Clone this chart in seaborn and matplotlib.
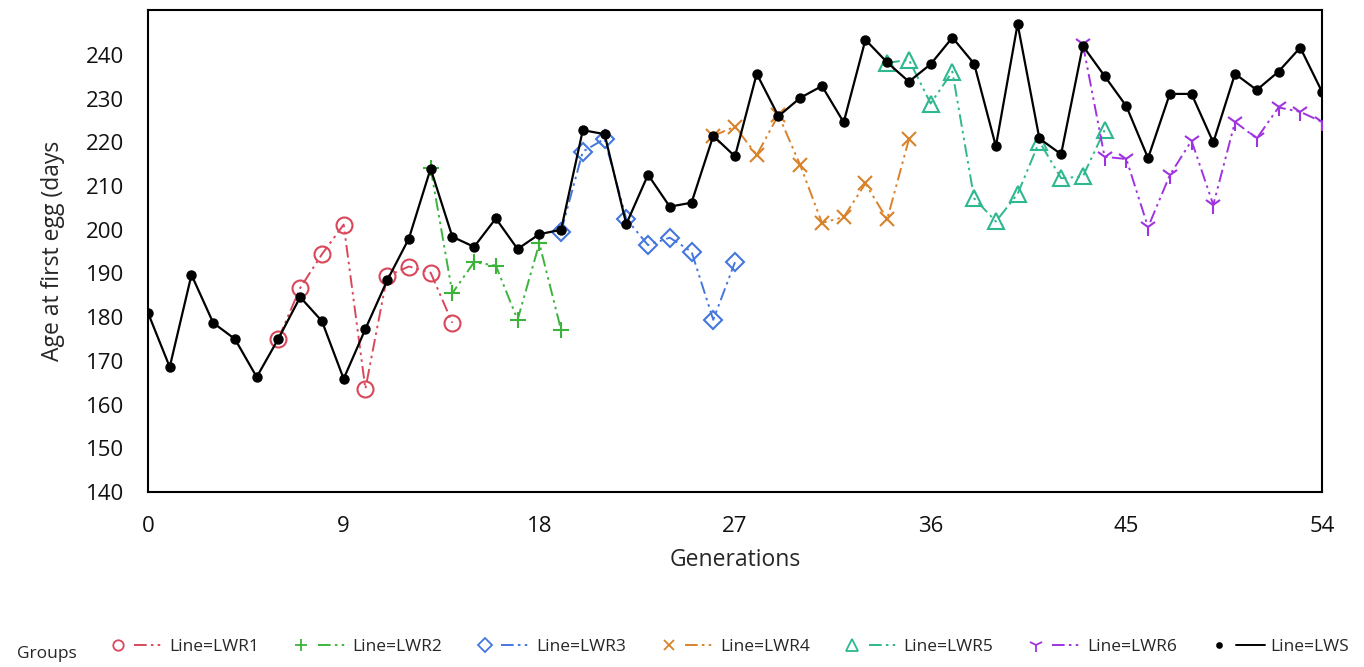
import numpy as np
import pandas as pd
import matplotlib
matplotlib.use("Agg")
import matplotlib.pyplot as plt
import seaborn as sns
from matplotlib.lines import Line2D
from matplotlib.legend_handler import HandlerTuple

# ---- data ----
lws_gen = list(range(0, 55))
lws = [181.0, 168.6, 189.7, 178.7, 175.0, 166.3, 175.1, 184.6, 179.1, 165.9,
       177.3, 188.4, 198.0, 214.0, 198.4, 196.1, 202.6, 195.6, 199.0, 200.0,
       222.8, 221.9, 201.3, 212.6, 205.3, 206.2, 221.5, 216.8, 235.7, 226.0,
       230.2, 232.9, 224.6, 243.5, 238.3, 233.9, 237.9, 244.0, 238.0, 219.1,
       247.1, 220.9, 217.3, 242.1, 235.2, 228.3, 216.4, 231.1, 231.1, 220.0,
       235.7, 232.0, 236.2, 241.7, 231.6]
lwr1_gen = list(range(6, 15))
lwr1 = [175.1, 186.7, 194.4, 201.2, 163.6, 189.4, 191.6, 190.2, 178.7]
lwr2_gen = list(range(13, 20))
lwr2 = [214.1, 185.5, 192.6, 191.8, 179.4, 196.9, 177.1]
lwr3_gen = list(range(19, 28))
lwr3 = [199.6, 217.9, 220.8, 202.5, 196.5, 198.2, 195.0, 179.4, 192.6]
lwr4_gen = list(range(26, 36))
lwr4 = [221.5, 223.6, 217.1, 226.3, 214.8, 201.6, 202.9, 210.6, 202.4, 220.7]
lwr5_gen = list(range(34, 45))
lwr5 = [238.2, 238.9, 228.9, 236.2, 207.2, 201.9, 208.2, 220.2, 211.8, 212.2, 222.8]
lwr6_gen = list(range(43, 55))
lwr6 = [242.5, 216.7, 216.2, 200.6, 212.5, 220.4, 205.7, 224.7, 220.9, 228.0, 227.0, 224.7]

names = ["Line=LWR1", "Line=LWR2", "Line=LWR3", "Line=LWR4", "Line=LWR5", "Line=LWR6", "Line=LWS"]
gens = [lwr1_gen, lwr2_gen, lwr3_gen, lwr4_gen, lwr5_gen, lwr6_gen, lws_gen]
vals = [lwr1, lwr2, lwr3, lwr4, lwr5, lwr6, lws]
xticks = [0, 9, 18, 27, 36, 45, 54]
yticks = list(range(140, 250, 10))

# ---- styles ----
colors = ["#d9475a", "#3cb43c", "#4477dd", "#d9822b", "#2db88f", "#a033e0", "#000000"]
markers = ["o", "+", "D", "x", "^", "1", "o"]
msizes = [11.5, 12, 9, 10, 12, 13, 6.5]
leg_ms = [7.5, 9, 7, 7, 9, 10, 3.5]
dashdot = (0, (6.5, 2.2, 1.3, 2.2, 1.3, 2.2))

sns.set_theme(style="white")
plt.rcParams["font.family"] = ["Open Sans", "DejaVu Sans"]

fig = plt.figure(figsize=(13.64, 6.67), dpi=100)
ax = fig.add_axes([0.1085, 0.2624, 0.8607, 0.7226])

for i, (name, g, v) in enumerate(zip(names, gens, vals)):
    df = pd.DataFrame({"Generation": g, "Age": v})
    is_lws = name == "Line=LWS"
    sns.lineplot(data=df, x="Generation", y="Age", ax=ax, color=colors[i],
                 marker=markers[i], markersize=msizes[i],
                 markerfacecolor=colors[i] if is_lws else "none",
                 markeredgecolor=colors[i], markeredgewidth=1 if is_lws else 1.5,
                 linestyle="-" if is_lws else dashdot,
                 linewidth=1.6 if is_lws else 1.4, legend=False, zorder=3 + i)

ax.set_xlim(0, 54)
ax.set_ylim(140, 250.3)
ax.set_xticks(xticks)
ax.set_xticks(np.arange(4.5, 54, 9), minor=True)
ax.set_yticks(yticks)
ax.tick_params(axis="both", which="both", direction="out", color="#a8a8a8",
               width=1.6, length=8, labelsize=16, labelcolor="#111111")
ax.tick_params(axis="y", pad=9)
ax.tick_params(axis="x", pad=9)
for s in ax.spines.values():
    s.set_color("black")
    s.set_linewidth(1.5)
    s.set_visible(True)
ax.set_xlabel("Generations", fontsize=16.5, labelpad=8)
ax.set_ylabel("Age at first egg (days", fontsize=16.5, labelpad=15)

# legend
handles = []
for i in range(7):
    mk = Line2D([], [], linestyle="none", marker=markers[i],
                markersize=leg_ms[i], color=colors[i],
                markerfacecolor=colors[i] if i == 6 else "none",
                markeredgewidth=1.3)
    ln = Line2D([], [], color=colors[i], linewidth=1.4,
                linestyle="-" if i == 6 else dashdot)
    handles.append((mk, ln))
leg = fig.legend(handles, names, loc="center left", bbox_to_anchor=(0.0755, 0.030),
                 ncol=7, frameon=False, fontsize=12.5, handlelength=3.5,
                 columnspacing=1.6, handletextpad=0.3, borderpad=0, borderaxespad=0,
                 handler_map={tuple: HandlerTuple(ndivide=None, pad=0.1)})
fig.text(0.0125, 0.0195, "Groups", fontsize=12.5, ha="left", va="center")

fig.savefig("out.png", dpi=100)
